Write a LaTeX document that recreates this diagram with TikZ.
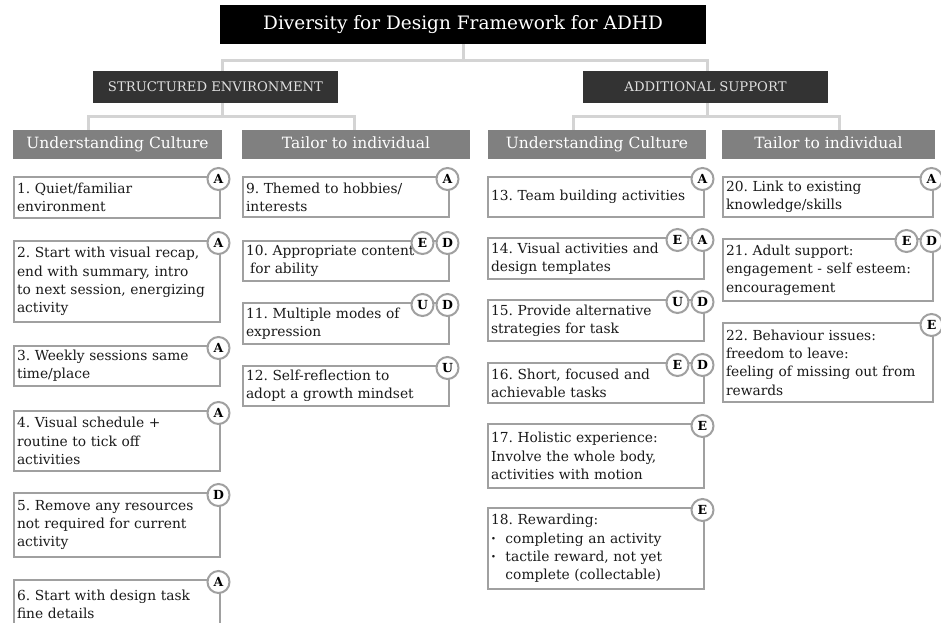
\documentclass[tikz,border=0pt]{standalone}
\usepackage{fontspec}
\setmainfont{DejaVu Serif}
\usepackage{tikz}

\definecolor{boxgray}{HTML}{A0A0A0}
\definecolor{linegray}{HTML}{D4D4D4}
\definecolor{headgray}{HTML}{333333}
\definecolor{catgray}{HTML}{808080}
\definecolor{textgray}{HTML}{1A1A1A}

\tikzset{
  titlebox/.style={fill=black, text=white, minimum width=486pt, minimum height=39pt, font=\fontsize{18.5}{22}\selectfont},
  headbox/.style={fill=headgray, text=white!88!black, minimum width=245pt, minimum height=32pt, text height=10pt, text depth=2pt, font=\fontsize{13.2}{15}\selectfont},
  catbox/.style={fill=catgray, text=white, minimum height=29pt, text height=12pt, text depth=3.5pt, font=\fontsize{15.5}{18}\selectfont},
  item/.style={draw=boxgray, line width=2pt, fill=white, text=textgray, anchor=north west, align=left, inner xsep=3pt, inner ysep=2pt, font=\fontsize{13.8}{18.3}\selectfont},
  colA/.style={item, text width=200pt},
  colB/.style={item, text width=200pt},
  colC/.style={item, text width=210pt},
  colD/.style={item, text width=204pt},
  badge/.style={circle, draw=boxgray, line width=2pt, fill=white, text=black, minimum size=22pt, inner sep=0pt, font=\bfseries\fontsize{12.5}{13}\selectfont},
  conn/.style={draw=linegray, line width=3pt}
}

\begin{document}
\frenchspacing
\begin{tikzpicture}[x=1pt, y=-1pt]
    \useasboundingbox (0,0) rectangle (941,622);
    \node[titlebox] (T) at (463,24.5) {Diversity for Design Framework for ADHD};
    \node[headbox] (SE) at (215.5,87) {STRUCTURED ENVIRONMENT};
    \node[headbox] (AS) at (705.5,87) {ADDITIONAL SUPPORT};
    \node[catbox, minimum width=209pt] (UC1) at (117.5,144.5) {Understanding Culture};
    \node[catbox, minimum width=228pt] (TI1) at (356,144.5) {Tailor to individual};
    \node[catbox, minimum width=218pt] (UC2) at (597,144.5) {Understanding Culture};
    \node[catbox, minimum width=213pt] (TI2) at (828.5,144.5) {Tailor to individual};
    \draw[conn] (T.south) -- ++(0,17);
    \draw[conn] ([xshift=6.5pt]SE.north) -- ++(0,-10) -| ([xshift=1.5pt]AS.north);
    \draw[conn] ([xshift=6.5pt]SE.south) -- ++(0,14);
    \draw[conn] ([xshift=-29.5pt]UC1.north) -- ++(0,-13) -| ([xshift=-2pt]TI1.north);
    \draw[conn] ([xshift=1.5pt]AS.south) -- ++(0,14);
    \draw[conn] ([xshift=-24pt]UC2.north) -- ++(0,-13) -| ([xshift=10.5pt]TI2.north);

    \node[colA, minimum height=41pt] (i1) at (13,176) {1. Quiet/familiar\\environment};
    \node[colA, minimum height=81pt] (i2) at (13,240) {2. Start with visual recap,\\end with summary, intro\\to next session, energizing\\activity};
    \node[colA, minimum height=40pt] (i3) at (13,345) {3. Weekly sessions same\\time/place};
    \node[colA, minimum height=60pt] (i4) at (13,410) {4. Visual schedule +\\routine to tick off\\activities};
    \node[colA, minimum height=64pt] (i5) at (13,492) {5. Remove any resources\\not required for current\\activity};
    \node[colA, minimum height=48pt] (i6) at (13,579) {6. Start with design task\\fine details\\[4pt]};

    \node[colB, minimum height=40pt] (i9) at (242,176) {9. Themed to hobbies/\\interests};
    \node[colB, minimum height=40pt] (i10) at (242,240) {10. Appropriate content\\\hspace*{0.3em}for ability};
    \node[colB, minimum height=41pt] (i11) at (242,302) {11. Multiple modes of\\expression};
    \node[colB, minimum height=40pt] (i12) at (242,365) {12. Self-reflection to\\adopt a growth mindset};

    \node[colC, minimum height=40pt] (i13) at (487,176) {13. Team building activities};
    \node[colC, minimum height=41pt] (i14) at (487,237) {14. Visual activities and\\design templates};
    \node[colC, minimum height=41pt] (i15) at (487,299) {15. Provide alternative\\strategies for task};
    \node[colC, minimum height=40pt] (i16) at (487,362) {16. Short, focused and\\achievable tasks};
    \node[colC, minimum height=64pt] (i17) at (487,423) {17. Holistic experience:\\Involve the whole body,\\activities with motion};
    \node[colC, minimum height=81pt] (i18) at (487,507) {18. Rewarding:\\\makebox[1.05em][l]{\textbf{·}}completing an activity\\\makebox[1.05em][l]{\textbf{·}}tactile reward, not yet\\\hspace*{1.05em}complete (collectable)};

    \node[colD, minimum height=40pt] (i20) at (722,176) {20. Link to existing\\knowledge/skills};
    \node[colD, minimum height=62pt] (i21) at (722,238) {21. Adult support:\\engagement - self esteem:\\encouragement};
    \node[colD, minimum height=79pt] (i22) at (722,322) {22. Behaviour issues:\\freedom to leave:\\feeling of missing out from\\rewards};

    \node[badge] (b1) at ([xshift=-2.5pt,yshift=-3pt]i1.north east) {A};
    \node[badge] (b2) at ([xshift=-2.5pt,yshift=-3pt]i2.north east) {A};
    \node[badge] (b3) at ([xshift=-2.5pt,yshift=-3pt]i3.north east) {A};
    \node[badge] (b4) at ([xshift=-2.5pt,yshift=-3pt]i4.north east) {A};
    \node[badge] (b5) at ([xshift=-2.5pt,yshift=-3pt]i5.north east) {D};
    \node[badge] (b6) at ([xshift=-2.5pt,yshift=-3pt]i6.north east) {A};
    \node[badge] (b9) at ([xshift=-2.5pt,yshift=-3pt]i9.north east) {A};
    \node[badge] (b10d) at ([xshift=-2.5pt,yshift=-3pt]i10.north east) {D};
    \node[badge] (b10e) at ([xshift=-27.5pt,yshift=-3pt]i10.north east) {E};
    \node[badge] (b11d) at ([xshift=-2.5pt,yshift=-3pt]i11.north east) {D};
    \node[badge] (b11u) at ([xshift=-27.5pt,yshift=-3pt]i11.north east) {U};
    \node[badge] (b12) at ([xshift=-2.5pt,yshift=-3pt]i12.north east) {U};
    \node[badge] (b13) at ([xshift=-2.5pt,yshift=-3pt]i13.north east) {A};
    \node[badge] (b14a) at ([xshift=-2.5pt,yshift=-3pt]i14.north east) {A};
    \node[badge] (b14e) at ([xshift=-27.5pt,yshift=-3pt]i14.north east) {E};
    \node[badge] (b15d) at ([xshift=-2.5pt,yshift=-3pt]i15.north east) {D};
    \node[badge] (b15u) at ([xshift=-27.5pt,yshift=-3pt]i15.north east) {U};
    \node[badge] (b16d) at ([xshift=-2.5pt,yshift=-3pt]i16.north east) {D};
    \node[badge] (b16e) at ([xshift=-27.5pt,yshift=-3pt]i16.north east) {E};
    \node[badge] (b17) at ([xshift=-2.5pt,yshift=-3pt]i17.north east) {E};
    \node[badge] (b18) at ([xshift=-2.5pt,yshift=-3pt]i18.north east) {E};
    \node[badge] (b20) at ([xshift=-2.5pt,yshift=-3pt]i20.north east) {A};
    \node[badge] (b21d) at ([xshift=-2.5pt,yshift=-3pt]i21.north east) {D};
    \node[badge] (b21e) at ([xshift=-27.5pt,yshift=-3pt]i21.north east) {E};
    \node[badge] (b22) at ([xshift=-2.5pt,yshift=-3pt]i22.north east) {E};
\end{tikzpicture}
\end{document}
